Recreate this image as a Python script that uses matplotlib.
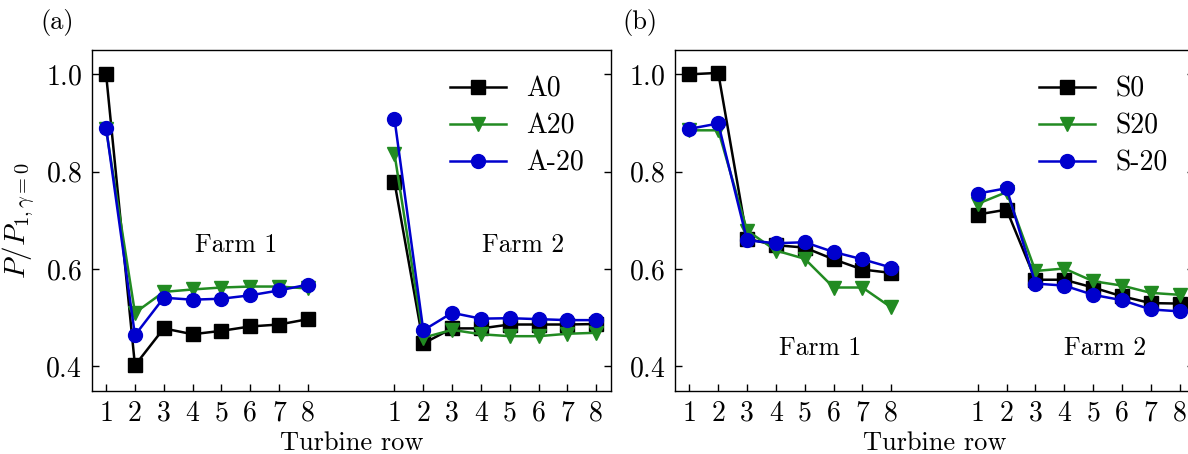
import matplotlib
matplotlib.use("Agg")
import matplotlib.pyplot as plt
import numpy as np

plt.rcParams['font.family'] = ['cmr10', 'DejaVu Serif']
plt.rcParams['mathtext.fontset'] = 'cm'
plt.rcParams['axes.formatter.use_mathtext'] = True
plt.rcParams['font.size'] = 19

rows = [1, 2, 3, 4, 5, 6, 7, 8]
tick_labels = [str(r) for r in rows] * 2

# Panel (a)
a0_f1 = [1.000, 0.402, 0.478, 0.466, 0.473, 0.482, 0.486, 0.497]
a0_f2 = [0.779, 0.447, 0.478, 0.478, 0.486, 0.486, 0.486, 0.487]
a20_f1 = [0.887, 0.510, 0.553, 0.558, 0.562, 0.564, 0.564, 0.560]
a20_f2 = [0.837, 0.459, 0.475, 0.466, 0.462, 0.462, 0.467, 0.469]
am20_f1 = [0.890, 0.464, 0.541, 0.537, 0.539, 0.546, 0.556, 0.568]
am20_f2 = [0.909, 0.474, 0.510, 0.498, 0.499, 0.497, 0.495, 0.495]

# Panel (b)
s0_f1 = [1.000, 1.003, 0.662, 0.649, 0.644, 0.620, 0.599, 0.592]
s0_f2 = [0.712, 0.722, 0.578, 0.578, 0.562, 0.544, 0.530, 0.529]
s20_f1 = [0.885, 0.885, 0.679, 0.638, 0.621, 0.562, 0.562, 0.521]
s20_f2 = [0.734, 0.758, 0.596, 0.601, 0.575, 0.566, 0.551, 0.547]
sm20_f1 = [0.888, 0.899, 0.659, 0.653, 0.655, 0.635, 0.620, 0.603]
sm20_f2 = [0.755, 0.766, 0.570, 0.566, 0.547, 0.536, 0.517, 0.513]

x1 = np.array(rows)
x2 = np.array(rows) + 10

BLACK = 'black'
GREEN = '#228b22'
BLUE = '#0000cd'

fig = plt.figure(figsize=(11.88, 4.54), dpi=100)
axw = 519 / 1188
axh = 340.7 / 454
axb = (454 - 390.7) / 454
ax1 = fig.add_axes([91.7 / 1188, axb, axw, axh])
ax2 = fig.add_axes([675 / 1188, axb, axw, axh])

def draw(ax, series, labels):
    styles = [(BLACK, 's', 9.5), (GREEN, 'v', 10), (BLUE, 'o', 10)]
    for (f1, f2), lab, (c, m, ms) in zip(series, labels, styles):
        ax.plot(x1, f1, color=c, marker=m, ms=ms, lw=1.8, label=lab)
        ax.plot(x2, f2, color=c, marker=m, ms=ms, lw=1.8)
    ax.set_xlim(0.5, 18.5)
    ax.set_ylim(0.35, 1.05)
    ax.set_yticks([0.4, 0.6, 0.8, 1.0])
    ax.set_xticks(np.concatenate([x1, x2]))
    ax.set_xticklabels(tick_labels)
    ax.tick_params(direction='in', length=5, width=1, right=True, labelsize=20, pad=7)
    ax.set_xlabel('Turbine row', fontsize=19, labelpad=3)
    for s in ax.spines.values():
        s.set_linewidth(1.0)
    ax.legend(loc='upper right', frameon=False, fontsize=20, handlelength=2.0,
              handletextpad=0.75, labelspacing=0.38, borderaxespad=0.55)

draw(ax1, [(a0_f1, a0_f2), (a20_f1, a20_f2), (am20_f1, am20_f2)], ['A0', 'A20', 'A-20'])
draw(ax2, [(s0_f1, s0_f2), (s20_f1, s20_f2), (sm20_f1, sm20_f2)], ['S0', 'S20', 'S-20'])

ax1.set_ylabel(r'$P/P_{1,\gamma=0}$', fontsize=21, labelpad=5)

ax1.text(5.52, 0.649, 'Farm 1', ha='center', va='center', fontsize=18.5)
ax1.text(15.46, 0.649, 'Farm 2', ha='center', va='center', fontsize=18.5)
ax2.text(5.54, 0.437, 'Farm 1', ha='center', va='center', fontsize=18.5)
ax2.text(15.43, 0.437, 'Farm 2', ha='center', va='center', fontsize=18.5)

fig.text(57 / 1188, 1 - 22 / 454, '(a)', ha='center', va='center', fontsize=19)
fig.text(640 / 1188, 1 - 22 / 454, '(b)', ha='center', va='center', fontsize=19)

fig.savefig('out.png', dpi=100)
